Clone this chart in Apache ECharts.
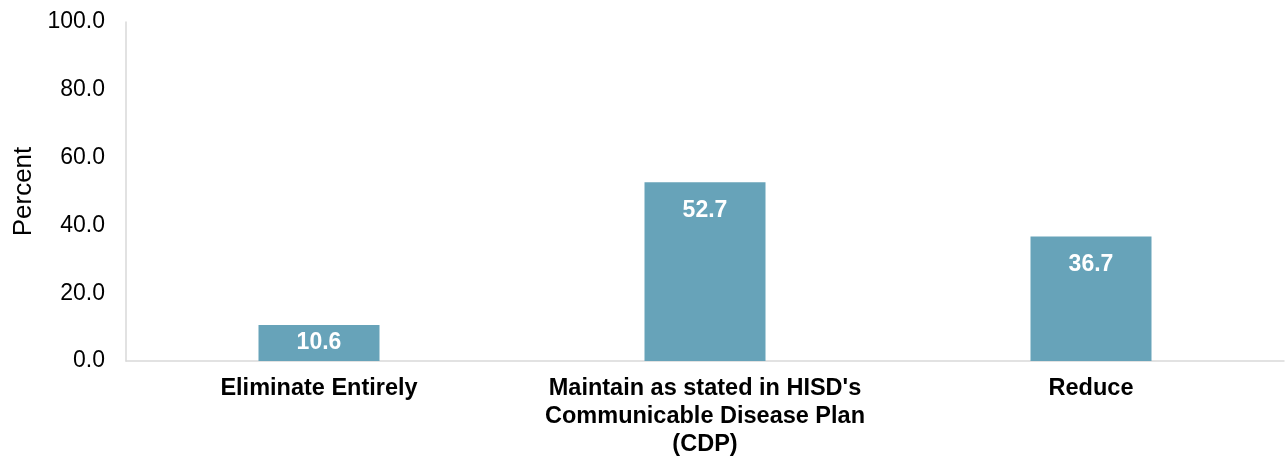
<!DOCTYPE html>
<html>
<head>
<meta charset="utf-8">
<script src="https://cdn.jsdelivr.net/npm/echarts@6/dist/echarts.min.js"></script>
<style>
  html, body { margin: 0; padding: 0; background: #fff; }
  #chart { width: 1286px; height: 461px; }
</style>
</head>
<body>
<div id="chart"></div>
<script>
const categories = [
  "Eliminate Entirely",
  "Maintain as stated in HISD's\nCommunicable Disease Plan\n(CDP)",
  "Reduce",
];
const percents = [10.6, 52.7, 36.7];
const yTicks = [0, 20, 40, 60, 80, 100];

const font = "Liberation Sans, Arial, sans-serif";

// short bars get their label centred, like the spreadsheet does
const barData = percents.map((v) => ({
  value: v,
  label: { position: v < 15 ? "inside" : "insideTop" },
}));

const myChart = echarts.init(document.getElementById("chart"));
myChart.setOption({
  animation: false,
  grid: {
    left: 126,
    right: 2,
    top: 22,
    bottom: 100,
  },
  xAxis: {
    type: "category",
    data: categories,
    axisLine: { lineStyle: { color: "#d9d9d9", width: 1.5 } },
    axisTick: { show: false },
    axisLabel: {
      color: "#000",
      fontFamily: font,
      fontWeight: "bold",
      fontSize: 23.5,
      lineHeight: 28,
      margin: 14,
      interval: 0,
    },
  },
  yAxis: {
    type: "value",
    min: yTicks[0],
    max: yTicks[yTicks.length - 1],
    interval: yTicks[1] - yTicks[0],
    name: "Percent",
    nameLocation: "middle",
    nameRotate: 90,
    nameGap: 89,
    nameTextStyle: { color: "#000", fontFamily: font, fontSize: 26 },
    axisLine: { show: true, lineStyle: { color: "#d9d9d9", width: 1.5 } },
    axisTick: { show: false },
    splitLine: { show: false },
    axisLabel: {
      color: "#000",
      fontFamily: font,
      fontSize: 23,
      margin: 21,
      formatter: (v) => v.toFixed(1),
    },
  },
  series: [
    {
      type: "bar",
      data: barData,
      barWidth: 121,
      itemStyle: { color: "#67a3b9" },
      label: {
        show: true,
        position: "insideTop",
        distance: 17,
        color: "#fff",
        fontFamily: font,
        fontWeight: "bold",
        fontSize: 23,
        formatter: ({ value }) => value.toFixed(1),
      },
    },
  ],
});
</script>
</body>
</html>
